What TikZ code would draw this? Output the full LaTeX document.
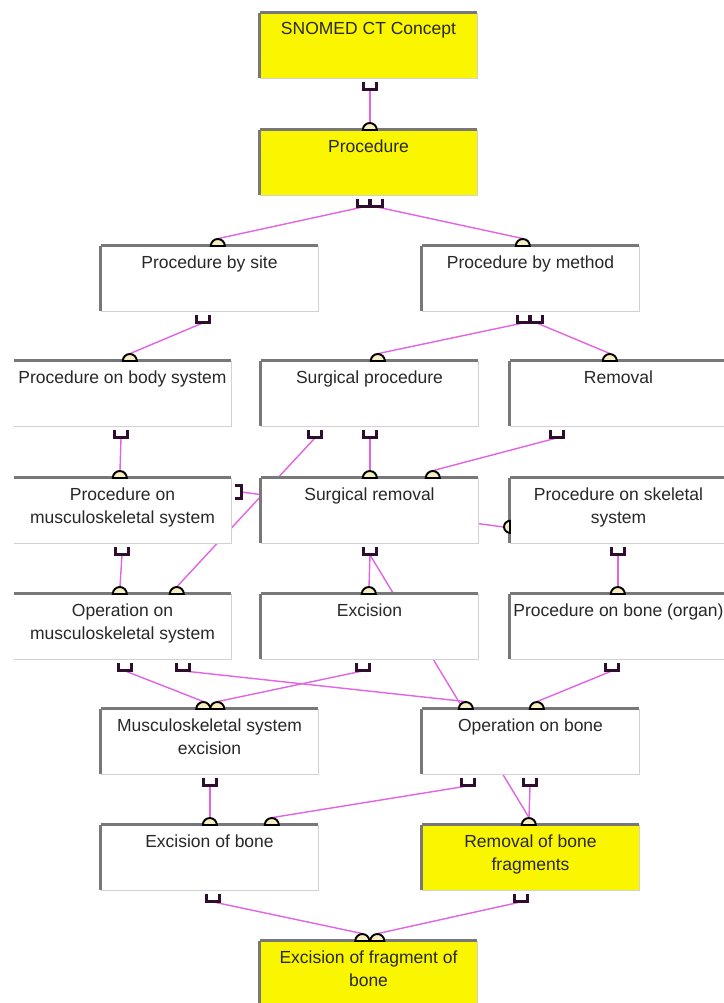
\documentclass[tikz,border=0pt]{standalone}
\usepackage{fontspec}
\setmainfont{Liberation Sans}
\definecolor{conn}{RGB}{226,100,226}
\definecolor{plugc}{RGB}{45,15,45}
\definecolor{sockf}{RGB}{246,238,190}
\definecolor{boxyellow}{RGB}{250,246,0}
\definecolor{darkedge}{RGB}{120,120,120}
\definecolor{lightedge}{RGB}{210,210,210}
\definecolor{txtc}{RGB}{40,40,40}
\pgfdeclarelayer{bg}
\pgfsetlayers{bg,main}
\begin{document}
\begin{tikzpicture}[x=1pt,y=-1pt,
  box/.style={minimum width=217pt, minimum height=65pt, inner sep=0, fill=white, draw=none},
  ybox/.style={box, fill=boxyellow},
  lbl/.style={anchor=north, inner sep=0, align=center, font=\fontsize{17.5}{23}\selectfont, text=txtc},
  plug/.style={anchor=north, minimum width=12pt, minimum height=7.5pt, inner sep=0},
  sideplug/.style={anchor=west, minimum width=6.5pt, minimum height=12pt, inner sep=0},
  sock/.style={anchor=south, minimum width=14pt, minimum height=7pt, inner sep=0},
  sidesock/.style={anchor=east, minimum width=6pt, minimum height=12pt, inner sep=0},
  conline/.style={draw=conn, line width=1.4pt},
  plugline/.style={draw=plugc, line width=3pt},
  sockline/.style={draw=black, fill=sockf, line width=1.9pt},
  topedge/.style={draw=darkedge, line width=2.8pt},
  thinedge/.style={draw=lightedge, line width=1pt}]
\useasboundingbox (0,0) rectangle (723,1003);
% boxes
\node[ybox] (b1) at (368.5,45.5) {};
\node[ybox] (b2) at (368.5,162.5) {};
\node[box] (b3) at (209.5,278.5) {};
\node[box] (b4) at (530.5,278.5) {};
\node[box] (b5) at (122.5,393.5) {};
\node[box] (b6) at (369.5,393.5) {};
\node[box] (b7) at (618.5,393.5) {};
\node[box] (b8) at (122.5,510.5) {};
\node[box] (b9) at (369.5,510.5) {};
\node[box] (b10) at (618.5,510.5) {};
\node[box] (b11) at (122.5,626.5) {};
\node[box] (b12) at (369.5,626.5) {};
\node[box] (b13) at (618.5,626.5) {};
\node[box] (b14) at (209.5,741.5) {};
\node[box] (b15) at (530.5,741.5) {};
\node[box] (b16) at (209.5,857.5) {};
\node[ybox] (b17) at (530.5,857.5) {};
\node[ybox] (b18) at (368.5,973.5) {};
% box edges
\foreach \n in {b1,b2,b3,b4,b5,b6,b7,b8,b9,b10,b11,b12,b13,b14,b15,b16,b17,b18}{
  \draw[thinedge] (\n.north east) -- (\n.south east) -- (\n.south west);
  \draw[topedge] (\n.north west) -- (\n.north east);
}
\foreach \n in {b1,b2,b3,b4,b6,b7,b9,b10,b12,b13,b14,b15,b16,b17,b18}{
  \draw[topedge] (\n.south west) -- (\n.north west);
}
% labels
\node[lbl] (t1) at ([yshift=-9.5pt]b1.north) {SNOMED CT Concept};
\node[lbl] (t2) at ([yshift=-9.5pt]b2.north) {Procedure};
\node[lbl] (t3) at ([yshift=-9.5pt]b3.north) {Procedure by site};
\node[lbl] (t4) at ([yshift=-9.5pt]b4.north) {Procedure by method};
\node[lbl] (t5) at ([yshift=-9.5pt]b5.north) {Procedure on body system};
\node[lbl] (t6) at ([yshift=-9.5pt]b6.north) {Surgical procedure};
\node[lbl] (t7) at ([yshift=-9.5pt]b7.north) {Removal};
\node[lbl] (t8) at ([yshift=-9.5pt]b8.north) {Procedure on\\musculoskeletal system};
\node[lbl] (t9) at ([yshift=-9.5pt]b9.north) {Surgical removal};
\node[lbl] (t10) at ([yshift=-9.5pt]b10.north) {Procedure on skeletal\\system};
\node[lbl] (t11) at ([yshift=-9.5pt]b11.north) {Operation on\\musculoskeletal system};
\node[lbl] (t12) at ([yshift=-9.5pt]b12.north) {Excision};
\node[lbl] (t13) at ([yshift=-9.5pt]b13.north) {Procedure on bone (organ)};
\node[lbl] (t14) at ([yshift=-9.5pt]b14.north) {Musculoskeletal system\\excision};
\node[lbl] (t15) at ([yshift=-9.5pt]b15.north) {Operation on bone};
\node[lbl] (t16) at ([yshift=-9.5pt]b16.north) {Excision of bone};
\node[lbl] (t17) at ([yshift=-9.5pt]b17.north) {Removal of bone\\fragments};
\node[lbl] (t18) at ([yshift=-9.5pt]b18.north) {Excision of fragment of\\bone};
% plugs
\node[plug] (pa) at (370,82) {};
\node[plug] (pb1) at (363.5,199) {};
\node[plug] (pb2) at (376.5,199) {};
\node[plug] (pc) at (203,315) {};
\node[plug] (pd1) at (523.5,315) {};
\node[plug] (pd2) at (536.5,315) {};
\node[plug] (pe) at (121,430) {};
\node[plug] (pf1) at (315,430) {};
\node[plug] (pf2) at (370,430) {};
\node[plug] (pg) at (557,430) {};
\node[sideplug] (ph) at (234.5,492) {};
\node[plug] (pi) at (122,547) {};
\node[plug] (pj) at (370,547) {};
\node[plug] (pk) at (618,547) {};
\node[plug] (pl1) at (125,663) {};
\node[plug] (pl2) at (183,663) {};
\node[plug] (pm) at (363,663) {};
\node[plug] (pn) at (612,663) {};
\node[plug] (po) at (210,778) {};
\node[plug] (pp1) at (468,778) {};
\node[plug] (pp2) at (530,778) {};
\node[plug] (pq) at (213,894) {};
\node[plug] (pr) at (521,894) {};
% sockets
\node[sock] (sa) at (370,130) {};
\node[sock] (sb) at (218,246) {};
\node[sock] (sc) at (523,246) {};
\node[sock] (sd) at (130,361) {};
\node[sock] (se) at (378,361) {};
\node[sock] (sf) at (610,361) {};
\node[sock] (sg) at (120,478) {};
\node[sock] (sh1) at (370,478) {};
\node[sock] (sh2) at (433,478) {};
\node[sidesock] (si) at (510,527) {};
\node[sock] (sj1) at (120,594) {};
\node[sock] (sj2) at (177,594) {};
\node[sock] (sk) at (369,594) {};
\node[sock] (sl) at (618,594) {};
\node[sock] (sm1) at (203.5,709) {};
\node[sock] (sm2) at (217.5,709) {};
\node[sock] (sn1) at (466,709) {};
\node[sock] (sn2) at (537,709) {};
\node[sock] (so1) at (210,825) {};
\node[sock] (so2) at (272,825) {};
\node[sock] (sp) at (529,825) {};
\node[sock] (sq1) at (362.5,941) {};
\node[sock] (sq2) at (377.5,941) {};
% plug and socket glyphs
\foreach \n in {pa,pb1,pb2,pc,pd1,pd2,pe,pf1,pf2,pg,pi,pj,pk,pl1,pl2,pm,pn,po,pp1,pp2,pq,pr}{
  \draw[plugline] (\n.north west) -- (\n.south west) -- (\n.south east) -- (\n.north east);
}
\draw[plugline] (ph.north west) -- (ph.north east) -- (ph.south east) -- (ph.south west);
\foreach \n in {sa,sb,sc,sd,se,sf,sg,sh1,sh2,sj1,sj2,sk,sl,sm1,sm2,sn1,sn2,so1,so2,sp,sq1,sq2}{
  \draw[sockline] (\n.south west) arc[start angle=180, end angle=0, radius=7pt] -- cycle;
}
\draw[sockline] (si.north east) arc[start angle=90, end angle=270, radius=6pt] -- cycle;
% connectors (under the boxes)
\begin{pgfonlayer}{bg}
\fill[white] (0,0) rectangle (723,1003);
\foreach \a/\b in {pa/sa,pb1/sb,pb2/sc,pc/sd,pd1/se,pd2/sf,pe/sg,pf2/sh1,pg/sh2,pf1/sj2,pi/sj1,pj/sk,pj/sp,pk/sl,pl1/sm1,pm/sm2,pl2/sn1,pn/sn2,po/so1,pp1/so2,pp2/sp,pq/sq1,pr/sq2}{
  \draw[conline] (\a.south) -- (\b.north);
}
\draw[conline] (ph.east) -- (si.west);
\end{pgfonlayer}
\end{tikzpicture}
\end{document}
